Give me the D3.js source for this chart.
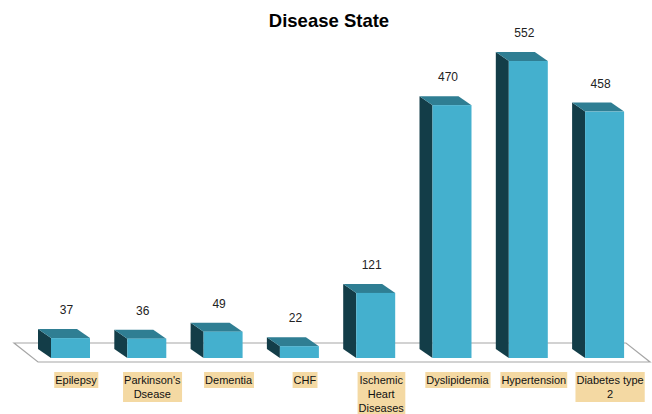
<!DOCTYPE html>
<html>
<head>
<meta charset="utf-8">
<script src="https://cdn.jsdelivr.net/npm/d3@7"></script>
<style>
  body { margin: 0; background: #fff; }
  svg { display: block; }
</style>
</head>
<body>
<div class="chart"></div>
<script>
// chart data
var categories = ["Epilepsy", "Parkinson's Dsease", "Dementia", "CHF", "Ischemic Heart Diseases", "Dyslipidemia", "Hypertension", "Diabetes type 2"];
var labelLines = [["Epilepsy"], ["Parkinson's", "Dsease"], ["Dementia"], ["CHF"], ["Ischemic", "Heart", "Diseases"], ["Dyslipidemia"], ["Hypertension"], ["Diabetes type", "2"]];
var counts = [37, 36, 49, 22, 121, 470, 552, 458];

var svgWidth = 652;
var svgHeight = 414;

// 3d depth offset of the bars (back is up and left)
var depthX = -13;
var depthY = -9;

var svg = d3.select(".chart")
  .append("svg")
  .attr("width", svgWidth)
  .attr("height", svgHeight);

var data = categories.map(function(c, i) {
  return { name: c, lines: labelLines[i], count: counts[i] };
});

// scales
var xBandScale = d3.scaleBand()
  .domain(categories)
  .range([32.35, 642.75])
  .paddingInner(0.489)
  .paddingOuter(0.2445);

var yLinearScale = d3.scaleLinear()
  .domain([0, 600])
  .range([358, 35.2]);

// title
svg.append("text")
  .attr("x", 329)
  .attr("y", 27)
  .attr("text-anchor", "middle")
  .style("font-family", "'Liberation Sans', Arial, sans-serif")
  .style("font-weight", "bold")
  .style("font-size", "18.5px")
  .attr("fill", "#000")
  .text("Disease State");

// floor
var floorBack = 343, floorFront = 362;
svg.append("path")
  .attr("d", "M14," + floorBack + "L626," + floorBack + "L650," + floorFront + "L38," + floorFront + "Z")
  .attr("fill", "#fff")
  .attr("stroke", "#a6a6a6")
  .attr("stroke-width", 1.2);

var bars = svg.selectAll(".bar")
  .data(data)
  .enter()
  .append("g")
  .attr("class", "bar");

var bw = xBandScale.bandwidth();
var y0 = yLinearScale(0);

// dark side face
bars.append("path")
  .attr("d", function(d) {
    var x = xBandScale(d.name), yt = yLinearScale(d.count);
    return "M" + x + "," + yt + "L" + (x + depthX) + "," + (yt + depthY) +
      "L" + (x + depthX) + "," + (y0 + depthY) + "L" + x + "," + y0 + "Z";
  })
  .attr("fill", "#133d48");

// top face
bars.append("path")
  .attr("d", function(d) {
    var x = xBandScale(d.name), yt = yLinearScale(d.count);
    return "M" + x + "," + yt + "L" + (x + depthX) + "," + (yt + depthY) +
      "L" + (x + depthX + bw) + "," + (yt + depthY) + "L" + (x + bw) + "," + yt + "Z";
  })
  .attr("fill", "#2f7e93");

// front face
bars.append("rect")
  .attr("x", d => xBandScale(d.name))
  .attr("y", d => yLinearScale(d.count))
  .attr("width", bw)
  .attr("height", d => y0 - yLinearScale(d.count))
  .attr("fill", "#44b0ce");

// value labels
bars.append("text")
  .attr("x", d => xBandScale(d.name) + bw / 2 - 4)
  .attr("y", d => yLinearScale(d.count) + depthY - 15)
  .attr("text-anchor", "middle")
  .style("font-family", "'Liberation Sans', Arial, sans-serif")
  .style("font-size", "12px")
  .attr("fill", "#222")
  .text(d => d.count);

// category labels with tan boxes
var lineH = 14;
var labels = svg.selectAll(".cat")
  .data(data)
  .enter()
  .append("g")
  .attr("class", "cat")
  .attr("transform", d => `translate(${xBandScale(d.name) + bw / 2 + 5.5}, 372)`);

labels.append("rect")
  .attr("class", "bg");

labels.each(function(d) {
  var g = d3.select(this);
  var t = g.append("text")
    .attr("text-anchor", "middle")
    .style("font-family", "'Liberation Sans', Arial, sans-serif")
    .style("font-size", "11px")
    .attr("fill", "#111");
  d.lines.forEach(function(line, i) {
    t.append("tspan")
      .attr("x", 0)
      .attr("y", 12 + i * lineH)
      .text(line);
  });
  var box = t.node().getBBox();
  g.select("rect.bg")
    .attr("x", box.x - 1)
    .attr("y", 0)
    .attr("width", box.width + 2)
    .attr("height", d.lines.length * lineH + 2)
    .attr("fill", "#f4d9a3");
});
</script>
</body>
</html>
